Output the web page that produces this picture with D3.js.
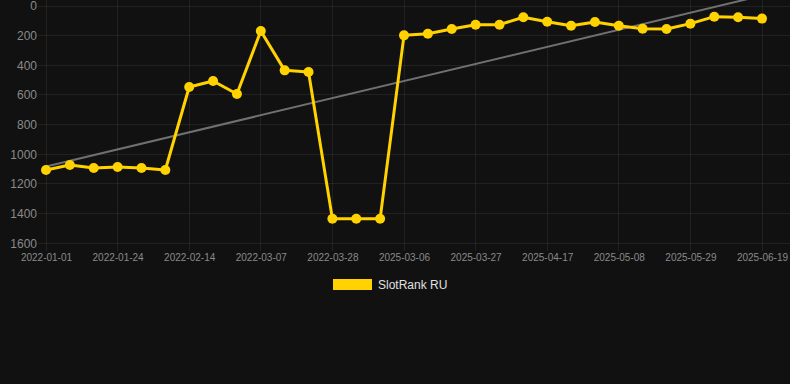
<!DOCTYPE html>
<html><head><meta charset="utf-8">
<script src="https://cdn.jsdelivr.net/npm/d3@7"></script>
<style>html,body{margin:0;padding:0;background:#111111;}svg{display:block;}</style>
</head><body>
<svg id="c" width="790" height="384"></svg>
<script>
const categories = ["2022-01-01","2022-01-08","2022-01-16","2022-01-24","2022-01-31","2022-02-07","2022-02-14","2022-02-21","2022-02-28","2022-03-07","2022-03-14","2022-03-21","2022-03-28","2022-04-04","2022-04-11","2025-03-06","2025-03-13","2025-03-20","2025-03-27","2025-04-03","2025-04-10","2025-04-17","2025-04-24","2025-05-01","2025-05-08","2025-05-15","2025-05-22","2025-05-29","2025-06-05","2025-06-12","2025-06-19"];
const rankValues = [1106,1072,1092,1086,1092,1106,546,506,593,169,434,445,1434,1434,1434,198,187,155,126,126,76,106,133,108,133,153,155,119,72,76,85];
const trendValues = [1082,-70];
const yTicks = [0,200,400,600,800,1000,1200,1400,1600];
const seriesName = "SlotRank RU";

(function(){
const svg = d3.select("#c");
const pLeft = 46, pRight = 762, pTop = 6, pBottom = 243.3;
const x = d3.scalePoint().domain(categories).range([pLeft, pRight]);
const y = d3.scaleLinear().domain([0,1600]).range([pTop, pBottom]);
const labelCats = categories.filter((d,i)=>i%3===0);

// grid
const grid = svg.append("g");
grid.selectAll("line.h").data(yTicks).join("line")
  .attr("x1", 38).attr("x2", 790).attr("y1", d=>y(d)).attr("y2", d=>y(d))
  .attr("stroke", "rgba(255,255,255,0.07)").attr("stroke-width",1).attr("shape-rendering","crispEdges");
grid.selectAll("line.v").data(labelCats).join("line")
  .attr("x1", d=>x(d)).attr("x2", d=>x(d)).attr("y1", 0).attr("y2", 251)
  .attr("stroke", "rgba(255,255,255,0.07)").attr("stroke-width",1).attr("shape-rendering","crispEdges");

// y axis labels
const yAxis = d3.axisLeft(y).tickValues(yTicks).tickSize(0).tickPadding(0).tickFormat(d3.format("d"));
const ya = svg.append("g").attr("transform","translate(37,0)").call(yAxis);
ya.select(".domain").remove();
ya.selectAll("text").attr("fill","#8a8a8a").style("font-family","Liberation Sans, Arial, sans-serif").style("font-size","12px");

// x axis labels
const xAxis = d3.axisBottom(x).tickValues(labelCats).tickSize(0).tickPadding(0);
const xa = svg.append("g").attr("transform","translate(0,254)").call(xAxis);
xa.select(".domain").remove();
xa.selectAll("text").attr("fill","#8a8a8a").attr("dy","0.71em").style("font-family","Liberation Sans, Arial, sans-serif").style("font-size","10px");

// trend line
svg.append("line")
  .attr("x1", x(categories[0])).attr("y1", y(trendValues[0]))
  .attr("x2", x(categories[categories.length-1])).attr("y2", y(trendValues[1]))
  .attr("stroke","#707070").attr("stroke-width",2);

// data line
const line = d3.line().x((d,i)=>x(categories[i])).y(d=>y(d));
svg.append("path").datum(rankValues).attr("d", line)
  .attr("fill","none").attr("stroke","#FFD200").attr("stroke-width",3).attr("stroke-linejoin","round");
svg.selectAll("circle.p").data(rankValues).join("circle")
  .attr("cx",(d,i)=>x(categories[i])).attr("cy",d=>y(d)).attr("r",5).attr("fill","#FFD200");

// legend
const lg = svg.append("g");
lg.append("rect").attr("x",333).attr("y",279).attr("width",39).attr("height",11).attr("fill","#FFD200");
lg.append("text").attr("x",378).attr("y",289).text(seriesName)
  .attr("fill","#e0e0e0").style("font-family","Liberation Sans, Arial, sans-serif").style("font-size","12px");
})();
</script>
</body></html>
